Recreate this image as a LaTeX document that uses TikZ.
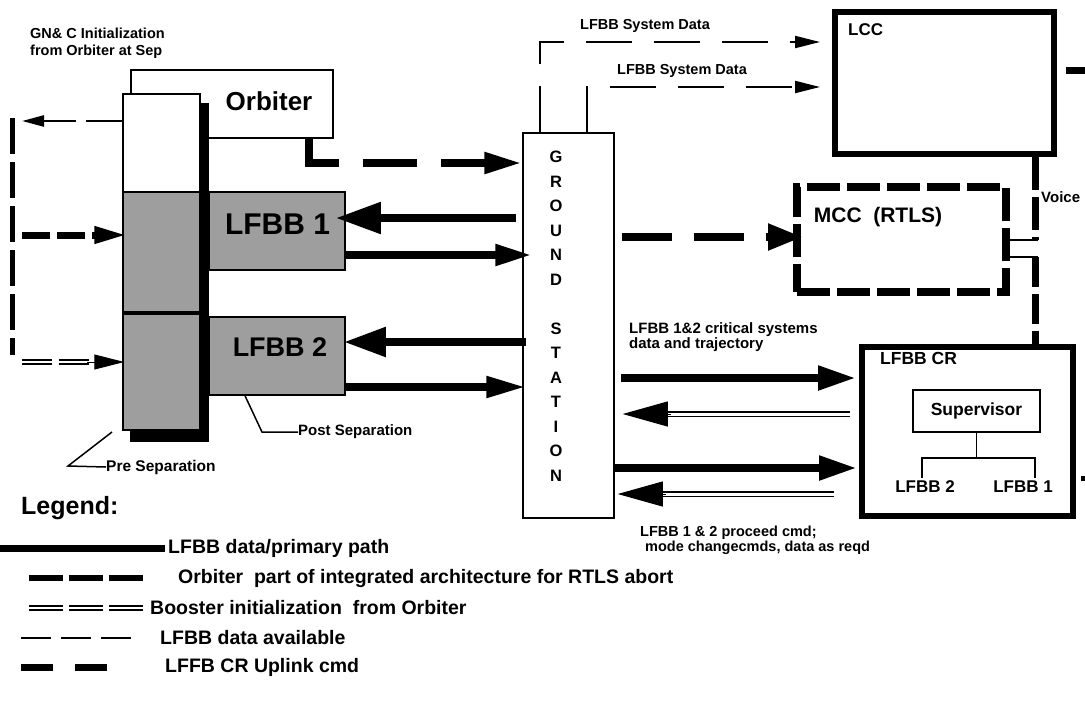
\documentclass[tikz,border=0pt]{standalone}
\usepackage{fontspec}
\setmainfont{Liberation Sans}
\usetikzlibrary{arrows.meta,calc}
\newcommand\fsz[1]{\fontsize{#1}{#1}\selectfont\bfseries}
\begin{document}
\begin{tikzpicture}[x=1pt,y=-1pt,
  box/.style={draw,inner sep=0pt,line width=1.5pt},
  grayfill/.style={fill=black!38},
  primary/.style={line width=8pt},
  rtls/.style={line width=6pt,dash pattern=on 33pt off 7pt},
  uplink/.style={line width=8pt,dash pattern=on 54pt off 24pt},
  avail/.style={line width=2pt,dash pattern=on 46pt off 22pt},
  dbl/.style={double,double distance=3pt,line width=1.6pt},
  booster/.style={double,double distance=2.5pt,line width=1.4pt,dash pattern=on 30pt off 7pt},
  lbl/.style={inner sep=0pt,anchor=west},
  legtext/.style={inner sep=0pt,anchor=west,font=\fsz{19.5}},
  thin/.style={line width=1.5pt}
]
\useasboundingbox (0,0) rectangle (1085,713);

% ---------- left group ----------
\node[box,minimum width=202pt,minimum height=68pt] (orb) at (232,104) {};
\node[font=\fsz{26}] (orbt) at (269,101) {Orbiter};
\node[box,fill=white,minimum width=77pt,minimum height=336pt] (col) at (161.5,262) {};
\filldraw[grayfill,line width=1.5pt] (123,192) rectangle (200,430);
\draw[line width=4pt] (123,313) -- (200,313);
\fill (200,103) rectangle (209,442);
\fill (130,430) rectangle (209,442);
\node[box,grayfill,minimum width=136pt,minimum height=78pt] (l1) at (277,231) {};
\node[font=\fsz{30}] (l1t) at (277.5,224) {LFBB 1};
\node[box,grayfill,minimum width=136pt,minimum height=78pt] (l2) at (277,356) {};
\node[font=\fsz{27}] (l2t) at (280,347) {LFBB 2};

\node[lbl,align=left,font=\fontsize{14.5}{17}\selectfont\bfseries] (gnc) at (30,43) {GN\& C Initialization\\from Orbiter at Sep};

% left connectors
\coordinate (vt) at (12,118);
\coordinate (vb) at (12,355);
\coordinate (g1) at (22,121);
\coordinate (g2) at (22,235);
\coordinate (g3) at (22,362);
\draw[line width=5pt,dash pattern=on 36pt off 8pt] (vt) -- (vb);
\draw[line width=2.5pt,dash pattern=on 36pt off 10pt,-{Triangle[length=22pt,width=11pt]}] (col.west |- g1) -- (g1);
\draw[line width=7pt,dash pattern=on 28pt off 7pt,-{Triangle[length=33pt,width=16pt]},shorten >=-5pt] (g2) -- (col.west |- g2);
\draw[booster] (g3) -- ($(col.west |- g3)+(-26,0)$);
\draw[line width=1pt,-{Triangle[length=30pt,width=15pt]}] ($(col.west |- g3)+(-35,0)$) -- ($(col.west |- g3)+(2,0)$);

% separation leaders
\node[lbl,font=\fsz{15}] (post) at (298,432) {Post Separation};
\draw[thin] (l2.south -| 245,0) -- (262,432) -- (post.west);
\node[lbl,font=\fsz{15.5}] (pre) at (106,467) {Pre Separation};
\coordinate (prep) at (112,432);
\draw[thin] (prep) -- (68,466) -- (pre.west);

% ---------- ground station ----------
\node[box,minimum width=91pt,minimum height=385pt] (gs) at (568.5,325.5) {};
\foreach \ch/\yy [count=\i] in {G/157,R/181.5,O/206,U/230.5,N/255,D/279.5,S/328.5,T/353,A/377.5,T/402,I/426.5,O/451,N/475.5}
  \node[font=\fsz{16.5},inner sep=0pt] (gsl\i) at (556,\yy) {\ch};

% Orbiter -> GS
\draw[uplink,-{Triangle[length=38pt,width=20pt]}] (orb.south -| 309,0) |- (gs.west |- 0,163);

% LFBB <-> GS
\draw[primary,-{Triangle[length=45pt,width=30pt]},shorten <=6pt,shorten >=-10pt] (gs.west |- 0,218) -- (l1.east |- 0,218);
\draw[primary,-{Triangle[length=37pt,width=20pt]},shorten >=-10pt] (l1.east |- 0,255) -- (gs.west |- 0,255);
\draw[primary,-{Triangle[length=42pt,width=28pt]},shorten <=-4pt,shorten >=-2pt] (gs.west |- 0,342) -- (l2.east |- 0,342);
\draw[primary,-{Triangle[length=40pt,width=20pt]},shorten >=-4pt] (l2.east |- 0,387) -- (gs.west |- 0,387);

% ---------- right group ----------
\node[draw,line width=6pt,inner sep=0pt,minimum width=219pt,minimum height=142pt] (lcc) at (944.5,83) {};
\node[lbl,font=\fsz{17}] (lcct) at (848,30) {LCC};

\node[draw,line width=8pt,dash pattern=on 33pt off 7pt,inner sep=0pt,minimum width=209pt,minimum height=105pt] (mcc) at (901.5,239.5) {};
\node[font=\fsz{21}] (mcct) at (878,217) {MCC\ \ (RTLS)};

\node[draw,line width=6pt,inner sep=0pt,minimum width=211pt,minimum height=169pt] (cr) at (967.5,431.5) {};
\node[lbl,font=\fsz{17.5}] (crt) at (880,358) {LFBB CR};
\node[box,font=\fsz{17.5},minimum width=127pt,minimum height=42pt] (sup) at (976.5,411) {Supervisor};
\node[font=\fsz{17}] (cl2) at (925,487) {LFBB 2};
\node[font=\fsz{17}] (cl1) at (1023,487) {LFBB 1};
\coordinate (tj) at (976.5,458);
\draw[thin] (sup.south) -- (tj);
\draw[thin] (cl2.north -| 922,0) |- (tj) -| (cl1.north -| 1035,0);

% LFBB system data
\node[font=\fsz{14.5}] (sd1) at (645,26) {LFBB System Data};
\node[font=\fsz{14.5}] (sd2) at (682,71) {LFBB System Data};
\draw[avail,-{Triangle[length=25pt,width=12pt]},shorten >=12pt] (gs.north -| 540,0) |- (lcc.west |- 0,42);
\draw[avail,-{Triangle[length=25pt,width=12pt]},shorten >=12pt] (gs.north -| 587,0) |- (lcc.west |- 0,87);

% GS -> MCC
\draw[line width=8pt,dash pattern=on 50pt off 22pt,-{Triangle[length=35pt,width=25pt]},shorten <=7pt,shorten >=-10pt] (gs.east |- 0,237) -- (mcc.west |- 0,237);

% voice
\coordinate (vA) at (1035,240);
\coordinate (vB) at (1035,257);
\node[lbl,font=\fsz{15}] (voice) at (1041,197) {Voice};
\draw[line width=7pt,dash pattern=on 33pt off 7pt] (lcc.south -| vA) -- (vA);
\draw[thin] (mcc.east |- vA) -- ($(vA)+(3,0)$);
\draw[thin] (mcc.east |- vB) -- ($(vB)+(3,0)$);
\draw[line width=7pt,dash pattern=on 30pt off 7pt] (vB) -- (cr.north -| vB);

% off-page stubs
\coordinate (e1) at (1085,70);
\coordinate (e2) at (1085,478);
\draw[line width=7pt] ($(lcc.east |- e1)+(9,0)$) -- (e1);
\draw[line width=5pt] ($(cr.east |- e2)+(5,0)$) -- (e2);

% GS <-> CR
\node[lbl,align=left,font=\fontsize{15}{15}\selectfont\bfseries] (crit) at (629,337.5) {LFBB 1\&2 critical systems\\data and trajectory};
\draw[primary,-{Triangle[length=38pt,width=23pt]},shorten <=6pt,shorten >=3pt] (gs.east |- 0,378) -- (cr.west |- 0,378);
\draw[dbl] ($(cr.west |- 0,414)+(-9,0)$) -- ($(gs.east |- 0,414)+(35,0)$);
\draw[line width=1pt,-{Triangle[length=45pt,width=25pt]}] ($(gs.east |- 0,414)+(56,0)$) -- ($(gs.east |- 0,414)+(8,0)$);
\draw[primary,-{Triangle[length=38pt,width=23pt]},shorten >=2pt] (gs.east |- 0,468) -- (cr.west |- 0,468);
\draw[dbl] ($(cr.west |- 0,494)+(-25,0)$) -- ($(gs.east |- 0,494)+(30,0)$);
\draw[line width=1pt,-{Triangle[length=45pt,width=25pt]}] ($(gs.east |- 0,494)+(51,0)$) -- ($(gs.east |- 0,494)+(3,0)$);
\node[lbl,align=left,font=\fontsize{14.5}{15}\selectfont\bfseries] (proc) at (640,540.5) {LFBB 1 \& 2 proceed cmd;\\\hspace{5pt}mode changecmds, data as reqd};

% ---------- legend ----------
\node[lbl,font=\fsz{25}] (leg) at (21,508) {Legend:};
\node[legtext] (lg1) at (168,548) {LFBB data/primary path};
\node[legtext] (lg2) at (178,578) {Orbiter\ \ part of integrated architecture for RTLS abort};
\node[legtext] (lg3) at (150,608) {Booster initialization\ \ from Orbiter};
\node[legtext] (lg4) at (160,638) {LFBB data available};
\node[legtext] (lg5) at (165,667) {LFFB CR Uplink cmd};
\draw[line width=7pt,shorten >=3pt] (lg1.west -| 0,0) -- (lg1.west);
\draw[line width=6pt,dash pattern=on 34pt off 6pt,shorten >=35pt] (lg2.west -| 29,0) -- (lg2.west);
\draw[booster,dash pattern=on 34pt off 6pt,shorten >=7pt] (lg3.west -| 29,0) -- (lg3.west);
\draw[line width=2pt,dash pattern=on 30pt off 10pt,shorten >=28pt] (lg4.west -| 21,0) -- (lg4.west);
\draw[line width=7pt,dash pattern=on 32pt off 22pt,shorten >=54pt] (lg5.west -| 21,0) -- (lg5.west);
\end{tikzpicture}
\end{document}
